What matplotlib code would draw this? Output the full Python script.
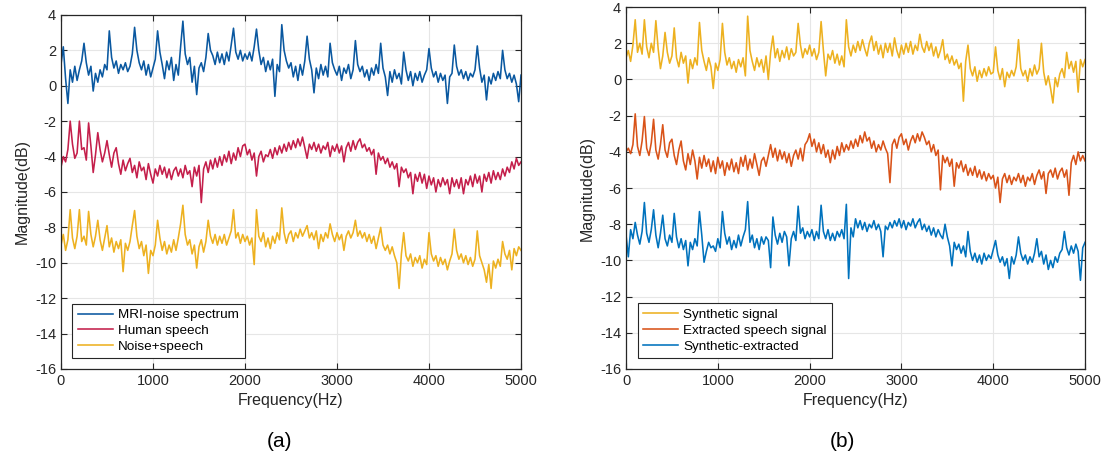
import numpy as np
import matplotlib
matplotlib.use("Agg")
from matplotlib import pyplot as plt

# magnitude values (dB), one every 25 Hz from 0 to 5000 Hz
mri_noise = [
    1.2, 2.2, 0.4, -1.0, 0.9, 0.2, 1.1, 0.3, 0.9, 1.4,
    2.4, 1.3, 0.6, 1.1, -0.3, 0.7, 0.2, 0.9, 0.5, 1.2,
    0.9, 3.1, 1.6, 1.0, 1.4, 0.7, 1.2, 0.9, 1.3, 0.8,
    1.1, 1.8, 3.3, 2.0, 1.3, 0.9, 1.4, 0.6, 1.2, 0.5,
    1.0, 1.5, 3.1, 1.9, 1.2, 0.4, 1.4, 0.9, 1.6, 0.3,
    1.2, 0.6, 2.2, 3.65, 1.8, 1.2, 1.6, 0.2, 1.1, -0.5,
    1.0, 1.3, 0.8, 1.6, 2.95, 2.0, 1.7, 1.2, 1.9, 1.3,
    1.8, 1.2, 1.9, 1.4, 2.3, 3.25, 1.9, 1.5, 2.0, 1.4,
    1.8, 1.5, 1.9, 1.4, 2.2, 3.2, 2.0, 1.2, 1.6, 0.8,
    1.4, 0.9, 1.5, -0.6, 1.2, 0.8, 3.45, 2.0, 1.4, 1.0,
    1.3, 0.5, 1.1, 0.3, 1.2, 0.6, 1.4, 2.8, 1.5, 0.9,
    -0.4, 1.0, 0.4, 1.2, 0.6, 1.1, 0.5, 2.4, 1.3, 0.9,
    0.6, 1.1, 0.3, 1.0, 0.7, 1.2, 0.4, 0.9, 2.55, 1.2,
    0.8, 1.1, 0.5, 0.9, 0.3, 1.0, 0.6, 1.2, 0.7, 2.4,
    1.0, 0.5, -0.55, 0.8, 0.2, 0.9, 0.4, 0.7, 0.1, 1.9,
    0.9, 0.3, 0.8, 0.0, 0.7, 0.3, 0.8, 0.2, 0.6, 0.9,
    2.1, 1.0, 0.5, 0.8, 0.2, 0.7, 0.3, 0.6, -1.0, 0.5,
    0.7, 2.3, 1.1, 0.6, 0.9, 0.4, 0.8, 0.3, 0.7, 0.5,
    0.9, 2.25, 1.0, 0.2, 0.6, -0.8, 0.5, 0.1, 0.7, 0.3,
    0.8, 0.4, 2.0, 0.9, 0.4, 0.7, 0.2, 0.6, 0.1, -0.9,
    0.6,
]

human_speech = [
    -4.6, -4.0, -4.3, -3.6, -2.0, -3.3, -4.1, -3.8, -2.0, -3.6,
    -3.5, -4.2, -2.1, -3.4, -4.9, -3.9, -2.65, -3.6, -4.3, -3.8,
    -3.1, -3.9, -4.6, -3.8, -3.5, -4.4, -5.0, -4.2, -4.8, -4.4,
    -4.1, -4.9, -4.5, -5.2, -4.3, -4.8, -4.6, -5.3, -4.4, -5.0,
    -5.5, -4.7, -5.1, -4.5, -5.0, -4.6, -5.2, -4.7, -5.3, -4.8,
    -4.6, -5.1, -4.7, -5.2, -4.5, -5.0, -4.8, -5.7, -4.6, -5.1,
    -4.5, -6.6, -4.7, -4.3, -4.9, -4.2, -4.7, -4.1, -4.6, -4.0,
    -4.5, -3.9, -4.3, -3.7, -4.4, -3.8, -4.2, -3.5, -4.0, -3.4,
    -3.3, -3.9, -3.6, -4.2, -3.8, -5.1, -4.0, -3.7, -4.3, -3.9,
    -4.0, -3.6, -4.1, -3.5, -3.9, -3.4, -3.8, -3.3, -3.7, -3.2,
    -3.6, -3.1, -3.5, -3.0, -3.4, -2.9, -3.5, -4.1, -3.3, -3.6,
    -3.2, -3.7, -3.3, -3.8, -3.4, -3.6, -3.2, -4.0, -3.4, -3.7,
    -3.3, -3.8, -3.4, -4.3, -3.5, -3.2, -3.7, -3.1, -3.6, -3.2,
    -3.0, -3.5, -3.3, -3.7, -3.5, -3.9, -3.6, -5.0, -3.8, -4.2,
    -4.0, -4.4, -4.1, -4.6, -4.3, -4.7, -4.4, -5.7, -4.6, -4.9,
    -4.7, -5.2, -4.9, -6.1, -5.0, -5.4, -4.9, -5.5, -5.0, -5.8,
    -5.1, -5.6, -5.2, -6.0, -5.3, -5.7, -5.2, -5.6, -5.3, -6.1,
    -5.2, -5.7, -5.3, -5.8, -5.2, -6.1, -5.3, -5.6, -5.1, -5.7,
    -5.0, -5.5, -5.1, -6.0, -5.0, -5.4, -4.9, -5.5, -4.8, -5.3,
    -4.9, -5.3, -4.7, -5.1, -4.6, -4.9, -4.3, -4.7, -4.1, -4.5,
    -4.3,
]

noise_speech = [
    -9.0, -8.4, -9.3, -8.7, -7.0, -8.6, -9.2, -8.5, -7.0, -8.8,
    -8.5, -9.0, -7.1, -8.4, -9.1, -8.5, -7.6, -8.7, -9.3, -8.6,
    -7.9, -9.1, -8.6, -9.4, -8.8, -9.2, -8.7, -10.5, -8.9, -9.3,
    -8.8, -7.9, -7.05, -8.5, -9.2, -8.8, -9.6, -9.0, -10.6, -9.3,
    -9.6, -9.0, -7.6, -8.6, -9.3, -8.8, -9.5, -9.0, -9.4, -8.7,
    -9.3, -8.6, -7.8, -6.75, -8.4, -9.0, -8.7, -9.5, -9.0, -10.3,
    -9.1, -8.7, -9.4, -8.8, -7.6, -8.5, -8.9, -8.4, -9.0, -8.5,
    -8.9, -8.4, -9.0, -8.6, -8.2, -7.0, -8.6, -8.3, -8.9, -8.4,
    -8.8, -8.5, -9.0, -8.6, -10.1, -7.0, -8.5, -8.8, -8.3, -9.1,
    -8.6, -9.2, -8.5, -8.9, -8.3, -8.7, -6.9, -8.3, -8.9, -8.4,
    -8.2, -8.8, -8.3, -8.6, -8.1, -8.5, -8.2, -7.9, -8.6, -8.3,
    -8.7, -8.2, -9.2, -8.4, -8.8, -8.3, -8.6, -7.8, -8.4, -8.8,
    -8.3, -8.7, -8.4, -9.3, -8.5, -8.2, -8.6, -8.3, -7.6, -8.5,
    -8.2, -8.6, -8.3, -8.8, -8.4, -8.9, -8.5, -9.2, -8.6, -8.0,
    -9.0, -9.3, -9.0, -9.5, -9.1, -9.6, -10.0, -11.45, -9.5, -8.3,
    -9.6, -9.9, -9.5, -10.2, -9.7, -10.0, -9.6, -10.3, -9.8, -10.1,
    -8.3, -9.5, -9.9, -9.6, -10.2, -9.7, -10.1, -9.8, -10.4, -9.9,
    -9.5, -8.1, -9.3, -9.8, -9.5, -10.0, -9.6, -10.1, -9.7, -10.2,
    -9.8, -8.2, -9.6, -10.0, -10.4, -11.1, -10.1, -11.45, -9.9, -10.3,
    -9.8, -10.2, -8.8, -9.5, -9.8, -9.3, -10.4, -9.2, -9.6, -9.1,
    -9.3,
]

synthetic = [
    1.2, 1.6, 1.0, 1.9, 3.3, 1.5, 2.0, 1.4, 3.3, 1.8,
    1.2, 2.0, 1.5, 3.25, 1.7, 0.6, 1.3, 2.6, 1.5, 0.9,
    1.3, 2.85, 1.2, 0.7, 1.5, 0.9, 1.3, -0.2, 1.1, 0.6,
    1.2, 0.8, 3.15, 1.6, 1.0, 0.5, 1.2, 0.7, -0.5, 0.9,
    0.5, 1.1, 3.1, 1.5, 0.8, 1.2, 0.6, 1.0, 0.4, 1.1,
    0.7, 1.2, 0.2, 3.5, 1.6, 1.0, 0.5, 1.2, 0.7, 1.1,
    0.4, 1.3, 0.0, 1.5, 2.4, 1.2, 1.7, 1.0, 1.6, 1.2,
    1.8, 1.1, 1.7, 1.3, 1.5, 3.1, 1.9, 1.2, 1.7, 1.4,
    1.9, 1.3, 1.7, 1.1, 1.5, 3.2, 1.6, 0.2, 1.4, 1.1,
    1.6, 0.9, 1.4, 0.8, 1.3, 0.7, 3.3, 1.8, 1.3, 1.9,
    1.5, 2.1, 1.6, 2.2, 1.7, 1.3, 2.0, 2.4, 1.6, 2.1,
    1.4, 1.9, 1.2, 2.0, 1.5, 2.0, 1.3, 2.3, 1.6, 1.2,
    1.9, 1.4, 2.0, 1.5, 2.1, 1.4, 1.9, 1.6, 2.5, 1.8,
    1.5, 2.1, 1.6, 2.0, 1.3, 1.8, 1.2, 1.6, 2.2, 1.1,
    1.4, 0.9, 1.3, 0.8, 1.1, 0.6, 0.9, -1.2, 1.0, 1.9,
    0.6, 0.2, 0.7, -0.1, 0.5, 0.1, 0.6, 0.2, 0.7, 0.3,
    0.4, 1.8, 0.5, 0.0, 0.6, -0.4, 0.4, 0.1, 0.5, 0.2,
    0.7, 2.2, 0.6, 0.2, 0.5, -0.1, 0.6, 0.2, 0.8, 0.3,
    0.6, 2.0, 0.4, -0.3, 0.2, -0.5, -1.3, 0.1, -0.4, 0.3,
    0.6, 0.1, 1.5, 0.6, 1.0, 0.4, 1.0, -0.7, 1.1, 0.7,
    1.1,
]

extracted = [
    -4.0, -3.8, -4.1, -3.6, -1.9, -3.7, -4.2, -3.4, -2.05, -3.8,
    -4.2, -3.5, -2.2, -3.9, -4.4, -3.6, -2.5, -3.9, -4.3, -3.5,
    -3.3, -4.2, -4.7, -3.9, -3.4, -4.5, -5.0, -4.1, -4.7, -3.9,
    -4.5, -5.5, -4.3, -4.9, -4.2, -4.8, -4.4, -5.1, -4.5, -5.2,
    -4.3, -4.9, -4.5, -5.3, -4.6, -5.0, -4.4, -5.1, -4.6, -5.2,
    -4.3, -4.8, -4.2, -5.0, -4.4, -4.9, -4.1, -4.7, -5.3, -4.5,
    -4.3, -4.8, -4.2, -3.6, -4.3, -3.8, -4.5, -3.9, -4.4, -4.0,
    -4.6, -4.1, -4.8, -4.2, -3.9, -4.4, -3.8, -4.5, -3.6, -3.4,
    -3.0, -3.7, -3.3, -4.0, -3.5, -4.1, -3.6, -4.3, -3.9, -4.6,
    -3.9, -4.4, -3.7, -4.2, -3.5, -4.0, -3.6, -3.9, -3.4, -3.8,
    -3.3, -3.7, -3.1, -3.5, -2.9, -3.4, -3.2, -3.8, -3.4, -4.0,
    -3.6, -3.9, -3.4, -3.8, -4.1, -5.7, -3.6, -3.3, -3.8, -3.2,
    -3.0, -3.6, -3.3, -3.9, -3.4, -3.1, -3.5, -3.0, -3.4, -2.9,
    -3.2, -3.6, -3.4, -4.0, -3.6, -4.2, -3.9, -6.1, -4.2, -4.6,
    -4.3, -4.8, -4.4, -5.9, -4.6, -4.9, -4.5, -5.1, -4.7, -5.3,
    -4.9, -5.3, -4.8, -5.4, -5.0, -5.5, -5.1, -5.6, -5.2, -5.5,
    -5.3, -6.0, -5.4, -6.8, -5.5, -5.2, -5.7, -5.3, -5.8, -5.4,
    -5.6, -5.2, -5.7, -5.3, -5.9, -5.4, -5.6, -5.2, -5.8, -5.3,
    -5.0, -5.5, -5.1, -6.3, -5.2, -5.0, -5.4, -4.9, -5.5, -5.1,
    -4.9, -5.4, -5.0, -6.4, -4.6, -4.2, -4.7, -4.0, -4.5, -4.2,
    -4.5,
]

synth_minus_extr = [
    -8.6, -9.8, -8.3, -8.8, -7.9, -8.6, -9.1, -8.4, -6.8, -8.5,
    -9.0, -8.3, -7.2, -8.6, -9.3, -8.5, -7.5, -8.8, -9.2, -8.6,
    -9.0, -7.4, -8.7, -9.3, -8.8, -9.4, -8.9, -10.3, -9.0, -9.4,
    -8.8, -9.2, -7.3, -8.6, -10.1, -9.5, -9.0, -9.3, -9.2, -9.5,
    -8.8, -9.3, -7.3, -8.5, -9.1, -8.7, -9.4, -8.9, -9.3, -8.6,
    -9.2, -8.7, -8.3, -6.75, -9.0, -8.6, -9.3, -8.8, -9.4, -8.7,
    -9.1, -8.7, -8.9, -10.4, -7.6, -8.6, -9.1, -8.5, -9.0, -8.4,
    -8.7, -10.3, -8.8, -8.4, -8.9, -7.0, -8.5, -8.2, -8.8, -8.4,
    -8.7, -8.3, -8.9, -8.4, -8.8, -6.95, -8.4, -8.8, -8.3, -8.9,
    -8.5, -8.9, -8.4, -8.7, -8.3, -8.8, -6.9, -11.0, -8.2, -8.7,
    -7.7, -8.2, -7.8, -8.3, -7.9, -8.4, -8.0, -8.2, -7.8, -8.3,
    -8.0, -8.4, -9.8, -8.1, -8.3, -7.9, -8.2, -7.8, -8.1, -7.7,
    -8.2, -7.8, -8.3, -7.9, -8.1, -7.7, -8.2, -7.9, -7.7, -8.3,
    -8.0, -8.4, -8.1, -8.6, -8.2, -8.7, -8.3, -8.6, -8.8, -8.0,
    -8.7, -9.2, -10.3, -9.0, -9.4, -9.1, -9.6, -9.2, -9.8, -8.4,
    -9.5, -10.0, -9.6, -10.1, -9.7, -10.2, -9.6, -10.0, -9.7, -9.9,
    -9.4, -8.9, -9.7, -10.1, -9.8, -10.3, -9.9, -11.0, -9.8, -10.2,
    -9.7, -8.7, -9.6, -10.0, -9.7, -10.2, -9.8, -10.1, -9.6, -8.8,
    -9.8, -9.5, -10.2, -9.7, -10.5, -10.0, -10.4, -9.8, -10.1, -9.6,
    -9.4, -8.4, -9.3, -9.7, -9.2, -9.6, -9.1, -9.5, -11.1, -9.3,
    -9.0,
]

panel_a = [(mri_noise, 'MRI-noise spectrum', '#0a58a0'),
           (human_speech, 'Human speech', '#c41f4b'),
           (noise_speech, 'Noise+speech', '#edb120')]
panel_b = [(synthetic, 'Synthetic signal', '#edb120'),
           (extracted, 'Extracted speech signal', '#d95319'),
           (synth_minus_extr, 'Synthetic-extracted', '#0072bd')]

plt.rcParams['font.family'] = ['Liberation Sans', 'DejaVu Sans']
plt.rcParams['axes.unicode_minus'] = False

fig = plt.figure(figsize=(11.01, 4.61), dpi=100)
ax_a = fig.add_axes([0.0554, 0.1996, 0.4178, 0.768])
ax_b = fig.add_axes([0.5686, 0.1996, 0.4169, 0.785])


def style(ax, series):
    for vals, name, col in series:
        f = np.linspace(0, 5000, len(vals))
        ax.plot(f, vals, color=col, lw=1.15, label=name)
    ax.set_xlim(0, 5000)
    ax.set_ylim(-16, 4)
    ax.set_xticks(np.arange(0, 5001, 1000))
    ax.set_yticks(np.arange(-16, 5, 2))
    ax.grid(True, color='#e6e6e6', lw=0.8)
    ax.set_axisbelow(True)
    for sp in ax.spines.values():
        sp.set_color('#262626')
        sp.set_linewidth(0.9)
    ax.tick_params(direction='in', top=True, right=True, length=4,
                   labelsize=10.5, colors='#262626')
    ax.set_xlabel('Frequency(Hz)', fontsize=11.5, color='#262626')
    ax.set_ylabel('Magnitude(dB)', fontsize=11.5, color='#262626')
    leg = ax.legend(loc='lower left', bbox_to_anchor=(0.025, 0.03),
                    fontsize=9.7, handlelength=2.6, borderaxespad=0,
                    fancybox=False, framealpha=1, edgecolor='#262626',
                    labelspacing=0.25, handletextpad=0.4)
    leg.get_frame().set_linewidth(0.8)


style(ax_a, panel_a)
style(ax_b, panel_b)

fig.text(280 / 1101, 1 - 441 / 461, '(a)', ha='center', va='center', fontsize=15)
fig.text(842 / 1101, 1 - 441 / 461, '(b)', ha='center', va='center', fontsize=15)

fig.savefig('out.png', dpi=100)
